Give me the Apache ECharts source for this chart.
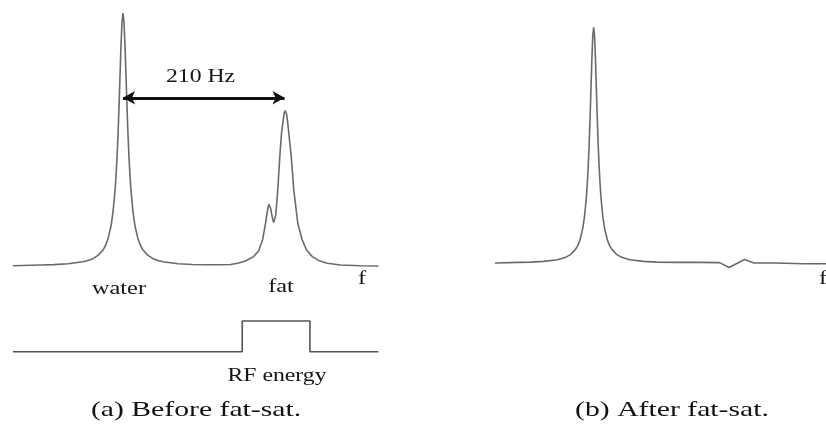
<!DOCTYPE html>
<html>
<head>
<meta charset="utf-8">
<title>Fat saturation spectra</title>
<script src="https://cdn.jsdelivr.net/npm/echarts@6/dist/echarts.min.js"></script>
<style>
  html, body { margin: 0; padding: 0; background: #ffffff; }
  #chart { width: 826px; height: 432px; }
</style>
</head>
<body>
<div id="chart"></div>
<script>
// Spectrum before fat suppression: frequency offset from water (Hz) and amplitude (% of water peak)
const beforeFreq = [-143, -107, -90, -71.5, -52, -45.5, -39, -32.5, -26, -22.75, -19.5, -15.6, -13, -10.4, -9.1, -7.8, -6.5, -5.2, -3.9, -2.6, -1.3, 0,
  1.3, 2.6, 3.9, 5.2, 6.5, 7.8, 9.1, 10.4, 13, 15.6, 19.5, 22.75, 26, 32.5, 39, 45.5, 52, 71.5, 90, 110, 125,
  139.8, 148.9, 159.3, 169.7, 176.2, 181.4, 185.3, 187.9, 189.5, 190.6, 191.8, 193.2, 194.8, 196.0, 197.2, 198.6, 201.2, 203.8, 206.1, 207.7,
  209.6, 211.0, 212.6, 214.2, 216.4, 218.7, 222.0, 227.2, 233.0, 238.6, 246.0, 254.2, 265.5, 282.8, 308.8, 332];
const beforeAmp = [0.1, 0.4, 0.56, 0.9, 1.7, 2.2, 2.9, 4.2, 6.3, 8.1, 10.7, 15.8, 21.3, 29.7, 35.6, 42.9, 51.9, 62.8, 75.0, 87.1, 96.4, 100,
  96.4, 87.1, 75.0, 62.8, 51.9, 42.9, 35.6, 29.7, 21.3, 15.8, 10.7, 8.1, 6.3, 4.2, 2.9, 2.2, 1.7, 0.9, 0.6, 0.5, 0.5,
  0.6, 1.1, 2.0, 3.7, 5.9, 10.3, 16.9, 22.1, 24.4, 24.2, 22.9, 20.6, 18.2, 17.2, 17.6, 20.2, 30.0, 43.2, 52.6, 56.4,
  60.5, 61.4, 60.1, 56.4, 50.0, 43.2, 30.0, 16.9, 10.3, 6.3, 3.7, 2.2, 1.1, 0.4, 0.1, 0];

// Spectrum after fat suppression
const afterFreq = [-141, -107, -90, -71.5, -52, -45.5, -39, -32.5, -26, -22.75, -19.5, -15.6, -13, -10.4, -9.1, -7.8, -6.5, -5.2, -3.9, -2.6, -1.3, 0,
  1.3, 2.6, 3.9, 5.2, 6.5, 7.8, 9.1, 10.4, 13, 15.6, 19.5, 22.75, 26, 32.5, 39, 45.5, 52,
  71.5, 90, 120, 150, 180, 193.5, 215.5, 228, 260, 300, 332];
const afterAmp = [0.1, 0.4, 0.5, 0.8, 1.5, 2.0, 2.7, 3.8, 5.9, 7.5, 10, 14.8, 20, 28.1, 33.8, 41, 50, 61, 73.5, 86.2, 96.2, 100,
  96.2, 86.2, 73.5, 61, 50, 41, 33.8, 28.1, 20, 14.8, 10, 7.5, 5.9, 3.8, 2.7, 2.0, 1.5,
  0.8, 0.5, 0.4, 0.4, 0.3, -1.8, 1.6, 0.2, 0.1, -0.2, -0.2];

// Saturation pulse band (RF energy on/off)
const rfFreq = [-143, 155, 155, 243, 243, 332];
const rfLevel = [0, 0, 1, 1, 0, 0];

// Chemical shift between the two peaks
const shiftFrom = 0;
const shiftTo = 210;
const shiftLevel = 66.5;
const shiftText = '210 Hz';

const peakNames = ['water', 'fat'];
const axisName = 'f';
const rfName = 'RF energy';
const captions = ['(a) Before fat-sat.', '(b) After fat-sat.'];

const zip = (xs, ys) => xs.map((x, i) => [x, ys[i]]);

const LINE_GREY = '#6a6a6a';
const TEXT = '#151515';
const SERIF = '"Liberation Serif", "Times New Roman", serif';

const chart = echarts.init(document.getElementById('chart'), null, { renderer: 'canvas' });

const hiddenX = (grid) => ({ type: 'value', gridIndex: grid, min: -143, max: 332, show: false });

// Horizontally stretched serif text
function label(text, x, y, size, sx, color) {
  return {
    type: 'text', x: x, y: y, scaleX: sx, silent: true,
    style: { text: text, font: size + 'px ' + SERIF, fill: color || TEXT, align: 'center', verticalAlign: 'middle' }
  };
}

chart.setOption({
  animation: false,
  backgroundColor: '#ffffff',
  grid: [
    { left: 13, top: 13, width: 365.4, height: 265.65 },
    { left: 13, top: 321, width: 365.4, height: 30.7 },
    { left: 493.6, top: 27.3, width: 339.3, height: 259.6 }
  ],
  xAxis: [hiddenX(0), hiddenX(1), hiddenX(2)],
  yAxis: [
    { type: 'value', gridIndex: 0, min: -5, max: 100, show: false },
    { type: 'value', gridIndex: 1, min: 0, max: 1, show: false },
    { type: 'value', gridIndex: 2, min: -10, max: 100, show: false }
  ],
  series: [
    {
      name: 'before', type: 'line', xAxisIndex: 0, yAxisIndex: 0,
      data: zip(beforeFreq, beforeAmp), showSymbol: false, clip: false,
      lineStyle: { color: LINE_GREY, width: 1.6 },
      markLine: {
        silent: true,
        symbol: ['arrow', 'arrow'],
        symbolSize: [10, 12],
        label: { show: false },
        lineStyle: { color: '#111111', width: 3, type: 'solid' },
        data: [[{ coord: [shiftFrom, shiftLevel] }, { coord: [shiftTo, shiftLevel] }]]
      }
    },
    {
      name: 'rf', type: 'line', xAxisIndex: 1, yAxisIndex: 1,
      data: zip(rfFreq, rfLevel), showSymbol: false, clip: false,
      lineStyle: { color: '#555555', width: 1.6 }
    },
    {
      name: 'after', type: 'line', xAxisIndex: 2, yAxisIndex: 2,
      data: zip(afterFreq, afterAmp), showSymbol: false, clip: false,
      lineStyle: { color: LINE_GREY, width: 1.6 }
    }
  ],
  graphic: [
    label(shiftText, 200.5, 77.5, 18.5, 1.28),
    label(peakNames[0], 119, 289, 19, 1.28),
    label(peakNames[1], 281, 287, 19, 1.28),
    label(axisName, 362, 279, 19, 1.28),
    label(rfName, 277, 376, 19, 1.25),
    label(axisName, 823, 279, 19, 1.28),
    label(captions[0], 196, 410, 22, 1.35, '#111111'),
    label(captions[1], 672, 410, 22, 1.35, '#111111')
  ]
});
</script>
</body>
</html>
